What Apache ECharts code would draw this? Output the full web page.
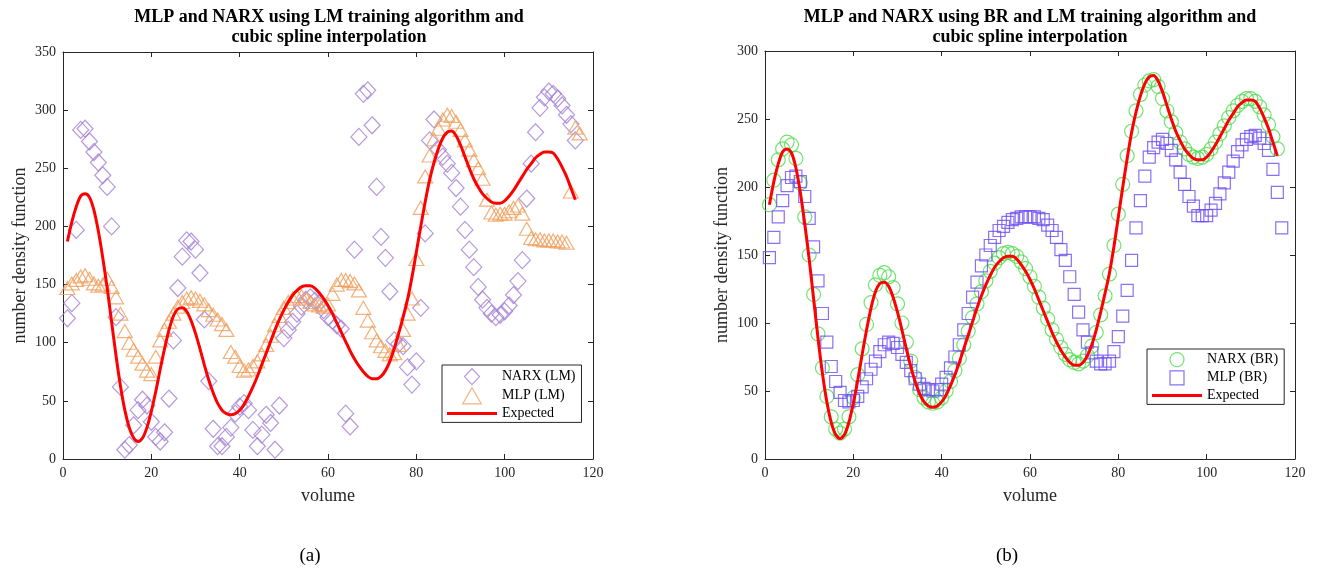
<!DOCTYPE html>
<html>
<head>
<meta charset="utf-8">
<script src="https://cdn.jsdelivr.net/npm/echarts/dist/echarts.min.js"></script>
<style>
  html, body { margin: 0; padding: 0; background: #ffffff; }
  #chart { width: 1320px; height: 577px; }
</style>
</head>
<body>
<div id="chart"></div>
<script>
// Number density function over volume, sampled at volume = 1, 2, 3, ...
const expected = [
  187,204,217,226,228,225,214,196,173,147,
  118,89,63,42,27,18,15,18,27,41,
  58,77,95,111,123,129,130,127,119,108,
  95,81,68,57,48,42,39,38,39,42,
  47,54,62,71,81,91,101,111,120,128,
  135,141,145,148,149,149,147,143,138,132,
  125,117,109,101,93,86,80,75,71,69,
  69,71,76,84,95,108,122,137,156,178,
  200,221,240,255,267,276,281,282,278,270,
  260,250,241,234,228,224,221,220,220,222,
  226,231,237,243,249,254,259,262,264,264,
  263,258,251,243,233,223
];

// (a) Levenberg-Marquardt
const narxLM = [
  121,134,197,283,284,273,264,255,244,234,
  200,122,62,8,12,29,42,51,46,32,
  19,15,23,52,102,147,174,188,187,180,
  160,120,67,26,11,11,19,27,39,45,
  48,42,25,11,21,38,31,8,46,104,
  111,118,125,131,137,139,136,134,128,122,
  119,115,112,39,28,180,277,314,317,287,
  234,191,173,144,102,99,97,79,64,84,
  130,194,274,292,266,260,254,246,233,217,
  197,180,165,148,137,130,125,122,124,127,
  132,141,153,171,224,254,281,302,311,316,
  314,310,304,296,288,274
];
const mlpLM = [
  147,151,154,157,158,155,151,149,150,155,
  148,139,125,110,100,94,88,82,76,73,
  88,102,111,118,125,131,135,138,139,138,
  136,133,128,124,120,116,111,92,88,80,
  76,77,80,84,90,98,106,115,123,130,
  135,138,140,140,138,135,133,132,131,133,
  142,150,154,154,153,151,145,130,119,109,
  102,97,93,90,91,98,111,125,138,172,
  216,243,261,275,284,292,296,295,290,283,
  274,266,257,250,241,223,212,210,211,211,
  213,216,218,211,198,190,189,189,188,188,
  188,187,187,186,230,285,280
];

// (b) Bayesian regularization
const narxBR = [
  187,205,220,228,233,231,221,203,178,150,
  121,92,67,46,31,22,19,22,31,45,
  62,81,99,115,128,135,137,134,126,114,
  100,86,72,60,51,45,42,41,42,45,
  50,57,65,74,84,94,104,114,123,131,
  138,144,148,151,152,151,149,145,140,134,
  127,119,111,103,95,88,82,77,73,71,
  70,72,76,83,93,106,120,136,157,180,
  202,223,241,256,268,275,278,279,274,265,
  256,248,240,233,228,224,222,221,222,224,
  228,233,239,245,251,256,260,263,265,265,
  263,259,253,246,237,228
];
const mlpBR = [
  148,163,178,190,201,207,208,204,193,177,
  156,131,107,86,68,57,49,43,42,43,
  46,53,59,66,72,79,84,86,85,82,
  77,71,65,59,55,52,51,50,51,55,
  60,67,75,84,95,107,119,130,142,150,
  157,163,168,171,174,176,177,178,178,178,
  178,177,176,172,168,163,154,146,134,121,
  108,95,86,78,72,70,70,72,79,90,
  105,124,146,170,190,208,222,229,233,235,
  232,227,220,211,202,193,186,179,179,179,
  183,188,195,203,211,219,226,231,235,237,
  238,236,232,227,213,196,170
];

const titleA = 'MLP and NARX using LM training algorithm and\ncubic spline interpolation';
const titleB = 'MLP and NARX using BR and LM training algorithm and\ncubic spline interpolation';
const xName = 'volume';
const yName = 'number density function';

const SERIF = '"Liberation Serif", "Times New Roman", serif';
const INK = '#262626';
const C_DIAMOND = '#a27fd4';
const C_TRIANGLE = '#ef9f5b';
const C_CIRCLE = '#4fdc4f';
const C_SQUARE = '#6c4cf2';
const C_RED = '#ff0000';

// Legend glyphs as paths so they keep their proportions inside the 50px-wide icon box
const ICON_LINE = 'path://M0,0H50V3H0Z';
const ICON_DIAMOND = 'path://M8,0L16,8.5L8,17L0,8.5Z';
const ICON_TRIANGLE = 'path://M7.5,0L15,13L0,13Z';
const ICON_SQUARE = 'path://M0,0H12V12H0Z';

const pairs = arr => arr.map((v, i) => [i + 1, v]);
const hollow = c => ({ color: 'rgba(0,0,0,0)', borderColor: c, borderWidth: 1.2 });

function xAxisPair(grid) {
  const base = {
    type: 'value', gridIndex: grid, min: 0, max: 120, interval: 20,
    splitLine: { show: false },
    axisLine: { show: true, onZero: false, lineStyle: { color: INK, width: 1 } },
    axisTick: { show: true, inside: true, length: 5, lineStyle: { color: INK } }
  };
  return [
    Object.assign({}, base, {
      position: 'bottom',
      axisLabel: { color: INK, fontFamily: SERIF, fontSize: 14, margin: 7 },
      name: xName, nameLocation: 'middle', nameGap: 28,
      nameTextStyle: { color: INK, fontFamily: SERIF, fontSize: 18 }
    }),
    Object.assign({}, base, { position: 'top', axisLabel: { show: false } })
  ];
}
function yAxisPair(grid, max) {
  const base = {
    type: 'value', gridIndex: grid, min: 0, max: max, interval: 50,
    splitLine: { show: false },
    axisLine: { show: true, onZero: false, lineStyle: { color: INK, width: 1 } },
    axisTick: { show: true, inside: true, length: 5, lineStyle: { color: INK } }
  };
  return [
    Object.assign({}, base, {
      position: 'left',
      axisLabel: { color: INK, fontFamily: SERIF, fontSize: 14, margin: 7 },
      name: yName, nameLocation: 'middle', nameGap: 34, nameRotate: 90,
      nameTextStyle: { color: INK, fontFamily: SERIF, fontSize: 18 }
    }),
    Object.assign({}, base, { position: 'right', axisLabel: { show: false } })
  ];
}

function legendBox(left, top, itemHeight, itemGap, items) {
  return {
    orient: 'vertical', left: left, top: top,
    padding: [3, 6, 2, 5], itemWidth: 50, itemHeight: itemHeight, itemGap: itemGap,
    symbolKeepAspect: true,
    backgroundColor: '#ffffff', borderColor: INK, borderWidth: 1, borderRadius: 0,
    selectedMode: false,
    textStyle: { color: '#000000', fontFamily: SERIF, fontSize: 14 },
    data: items
  };
}
const markerItem = (name, icon, color) => ({ name: name, icon: icon, itemStyle: hollow(color) });
const lineItem = () => ({ name: 'Expected', icon: ICON_LINE, itemStyle: { color: C_RED, borderWidth: 0 } });

const option = {
  animation: false,
  backgroundColor: '#ffffff',
  grid: [
    { left: 63, right: 727, top: 52, bottom: 118, outerBoundsMode: 'none' },
    { left: 765, right: 25, top: 51, bottom: 118, outerBoundsMode: 'none' }
  ],
  xAxis: [].concat(xAxisPair(0), xAxisPair(1)),
  yAxis: [].concat(yAxisPair(0, 350), yAxisPair(1, 300)),
  legend: [
    legendBox(442, 365, 16, 2, [
      markerItem('NARX (LM)', ICON_DIAMOND, C_DIAMOND),
      markerItem('MLP (LM)', ICON_TRIANGLE, C_TRIANGLE),
      lineItem()
    ]),
    legendBox(1147, 349, 14, 3, [
      markerItem('NARX (BR)', 'circle', C_CIRCLE),
      markerItem('MLP (BR)', ICON_SQUARE, C_SQUARE),
      lineItem()
    ])
  ],
  graphic: [
    { type: 'text', style: { text: titleA, x: 329, y: 7, textAlign: 'center', textVerticalAlign: 'top',
      fontFamily: SERIF, fontSize: 18, fontWeight: 'bold', lineHeight: 20, fill: '#000000' } },
    { type: 'text', style: { text: titleB, x: 1030, y: 7, textAlign: 'center', textVerticalAlign: 'top',
      fontFamily: SERIF, fontSize: 18, fontWeight: 'bold', lineHeight: 20, fill: '#000000' } },
    { type: 'text', style: { text: '(a)', x: 310, y: 547, textAlign: 'center', textVerticalAlign: 'top',
      fontFamily: SERIF, fontSize: 19, fill: '#000000' } },
    { type: 'text', style: { text: '(b)', x: 1007, y: 547, textAlign: 'center', textVerticalAlign: 'top',
      fontFamily: SERIF, fontSize: 19, fill: '#000000' } }
  ],
  series: [
    { name: 'NARX (LM)', type: 'scatter', xAxisIndex: 0, yAxisIndex: 0, silent: true,
      symbol: 'diamond', symbolSize: [16, 17], itemStyle: hollow(C_DIAMOND), data: pairs(narxLM) },
    { name: 'MLP (LM)', type: 'scatter', xAxisIndex: 0, yAxisIndex: 0, silent: true,
      symbol: 'triangle', symbolSize: [15, 13], itemStyle: hollow(C_TRIANGLE), data: pairs(mlpLM) },
    { name: 'Expected', type: 'line', xAxisIndex: 0, yAxisIndex: 0, silent: true,
      symbol: 'none', smooth: 0.3, lineStyle: { color: C_RED, width: 3 }, itemStyle: { color: C_RED },
      data: pairs(expected), z: 3 },
    { name: 'NARX (BR)', type: 'scatter', xAxisIndex: 2, yAxisIndex: 2, silent: true,
      symbol: 'circle', symbolSize: 14, itemStyle: hollow(C_CIRCLE), data: pairs(narxBR) },
    { name: 'MLP (BR)', type: 'scatter', xAxisIndex: 2, yAxisIndex: 2, silent: true,
      symbol: 'rect', symbolSize: 12, itemStyle: hollow(C_SQUARE), data: pairs(mlpBR) },
    { name: 'Expected', type: 'line', xAxisIndex: 2, yAxisIndex: 2, silent: true,
      symbol: 'none', smooth: 0.3, lineStyle: { color: C_RED, width: 3 }, itemStyle: { color: C_RED },
      data: pairs(expected), z: 3 }
  ]
};

const chart = echarts.init(document.getElementById('chart'), null, { renderer: 'canvas' });
chart.setOption(option);
</script>
</body>
</html>
